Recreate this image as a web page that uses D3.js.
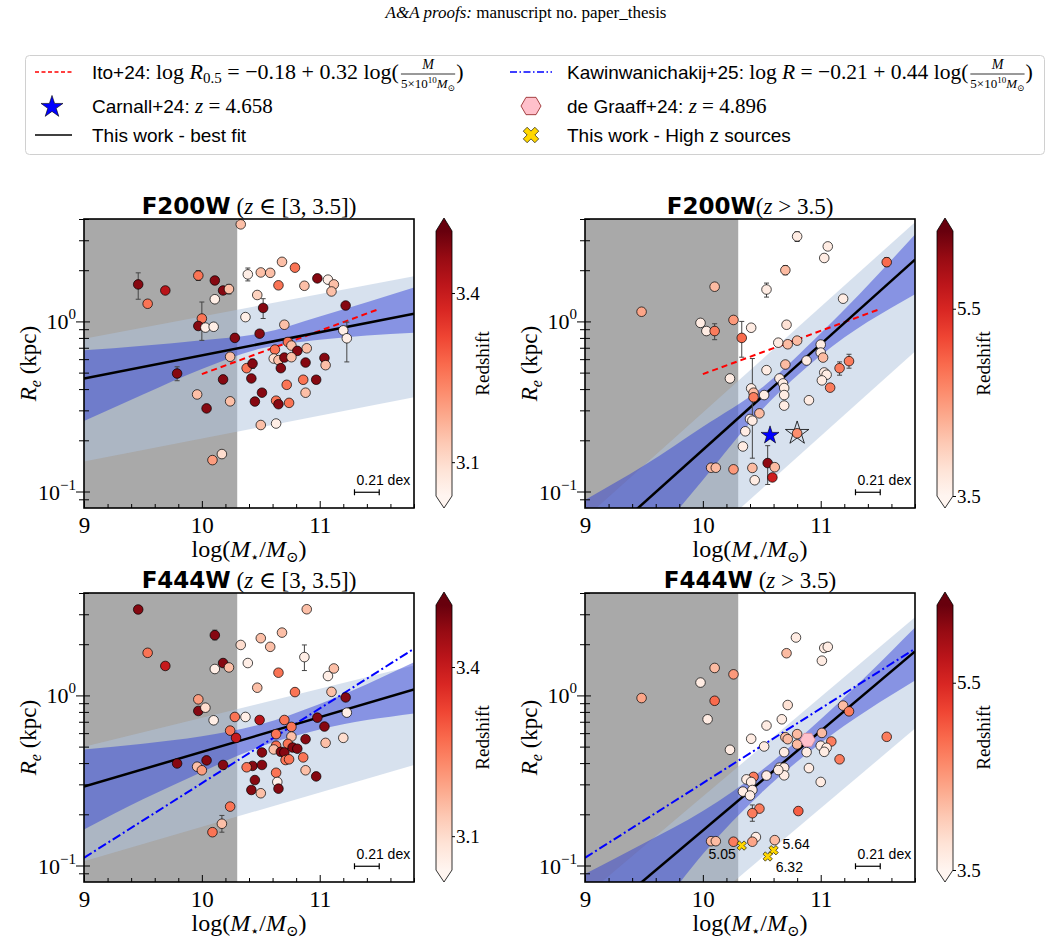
<!DOCTYPE html>
<html>
<head>
<meta charset="utf-8">
<script src="https://cdn.jsdelivr.net/npm/d3@7"></script>
<style>
body { margin: 0; background: #fff; }
svg { display: block; }
</style>
</head>
<body>
<svg id="fig" width="1052" height="945"></svg>
<script>
// ---- data ----
var massDomain = [9, 11.8];
var reDomain = [0.08, 4];
var massCut = 10.3;
var zLoDomain = [3.04, 3.51];
var zHiDomain = [3.5, 6.33];
var zLoTicks = [3.1, 3.4];
var zHiTicks = [3.5, 5.5];

// F200W, z in [3, 3.5]
var f200Lo_mass = [9.46,9.54,9.69,9.97,10.11,10.18,10.23,10.11,10.00,9.97,10.03,10.10,10.28,10.24,9.79,10.18,9.96,10.04,10.24,10.09,10.17,10.33,10.39,10.50,10.58,10.68,10.79,10.65,10.87,10.98,11.07,11.12,11.10,10.47,10.52,10.37,10.70,10.49,11.22,11.20,11.23,10.73,10.76,10.89,10.81,10.62,10.61,10.65,10.70,10.76,10.88,11.04,11.05,10.38,10.43,10.67,10.42,10.72,10.86,10.97,10.88,10.51,10.45,10.63,10.65,10.74,10.50,10.63];
var f200Lo_re = [1.65,1.27,1.52,1.86,1.74,1.52,1.55,1.35,1.04,0.94,0.92,0.93,0.80,0.62,0.494,0.456,0.372,0.308,0.339,0.153,0.166,3.72,1.89,1.94,1.93,2.24,2.07,1.63,1.62,1.79,1.76,1.65,1.50,1.43,1.20,1.06,0.956,0.847,1.24,0.886,0.796,0.757,0.721,0.695,0.671,0.683,0.605,0.592,0.613,0.616,0.573,0.610,0.553,0.531,0.565,0.531,0.462,0.424,0.454,0.454,0.381,0.381,0.338,0.342,0.326,0.332,0.246,0.251];
var f200Lo_z = [3.48,3.26,3.42,3.26,3.48,3.48,3.15,3.06,3.26,3.48,3.06,3.06,3.48,3.15,3.48,3.48,3.15,3.48,3.15,3.2,3.1,3.15,3.06,3.15,3.15,3.15,3.26,3.26,3.15,3.48,3.06,3.15,3.15,3.12,3.48,3.06,3.15,3.48,3.48,3.06,3.06,3.26,3.15,3.15,3.48,3.26,3.1,3.15,3.48,3.15,3.48,3.48,3.15,3.26,3.48,3.48,3.48,3.26,3.26,3.48,3.15,3.48,3.48,3.26,3.48,3.26,3.15,3.06];
var f200Lo_err = [[0,1.35,1.93],[3,1.74,1.99],[6,1.45,1.65],[8,0.774,1.30],[12,0.77,0.84],[14,0.448,0.541],[15,0.43,0.48],[22,1.73,2.06],[34,1.04,1.36],[40,0.578,0.99],[54,0.53,0.60]];

// F200W, z > 3.5
var f200Hi_mass = [9.48,10.10,9.98,10.03,10.10,10.26,10.33,10.23,10.41,10.80,11.06,11.03,10.70,10.54,11.19,11.56,10.71,10.64,10.72,10.80,11.00,11.00,11.02,10.88,10.70,10.54,10.65,10.68,10.69,10.69,10.69,10.90,11.03,11.05,11.01,11.08,11.16,11.24,10.41,10.43,10.43,10.52,10.48,10.40,10.42,10.36,10.34,10.42,10.44,10.07,10.11,10.26,10.55,10.61,10.59,10.80];
var f200Hi_re = [1.14,1.60,0.98,0.878,0.878,1.02,0.80,0.462,0.918,3.16,2.76,2.36,2.00,1.54,1.36,2.23,0.956,0.750,0.734,0.771,0.731,0.656,0.613,0.589,0.558,0.517,0.462,0.432,0.406,0.369,0.320,0.344,0.501,0.486,0.450,0.408,0.531,0.584,0.404,0.381,0.358,0.369,0.288,0.267,0.261,0.226,0.184,0.1376,0.1165,0.138,0.138,0.135,0.147,0.139,0.121,0.220];
var f200Hi_z = [4.4,4.2,3.65,3.65,4.75,4.5,4.9,3.65,3.65,3.65,3.65,3.65,4.2,3.65,3.65,4.9,3.8,3.65,4.2,4.2,3.65,3.65,4.2,3.65,4.2,3.65,3.65,3.65,3.65,3.65,3.65,3.65,3.65,3.65,3.65,4.75,4.75,4.75,3.65,4.2,4.75,3.65,4.2,3.65,3.65,3.65,3.65,4.2,3.65,4.2,4.2,4.5,6.1,4.2,5.6,4.6];
var f200Hi_err = [[4,0.781,0.969],[6,0.616,1.0],[9,2.95,3.37],[11,2.25,2.48],[12,1.88,2.13],[13,1.39,1.68],[15,2.1,2.37],[36,0.483,0.578],[37,0.531,0.641],[38,0.39,0.42],[44,0.157,0.605],[52,0.110,0.186]];
var f200Hi_starMass = [10.80];
var f200Hi_starRe = [0.220];

// F444W, z in [3, 3.5]
var f444Lo_mass = [9.46,9.54,9.69,10.11,10.18,10.23,10.11,9.97,9.97,10.03,10.10,10.28,10.24,10.29,9.79,10.04,10.18,9.96,10.00,10.24,10.17,10.09,10.33,10.39,10.50,10.58,10.68,10.89,10.87,10.65,10.47,10.37,10.49,10.70,10.79,11.07,11.12,11.10,11.22,11.23,10.98,11.04,10.76,10.63,10.76,10.88,11.05,11.20,10.73,10.63,10.61,10.67,10.70,10.77,10.81,10.51,10.86,10.71,10.74,10.43,10.38,10.51,10.88,10.97,10.63,10.45,10.42,10.64,10.65,10.50];
var f444Lo_re = [3.20,1.78,1.49,2.26,1.55,1.46,1.43,0.948,0.81,0.847,0.714,0.747,0.621,0.563,0.398,0.415,0.390,0.381,0.363,0.222,0.176,0.157,1.98,1.55,2.17,1.93,2.34,3.21,1.68,1.36,1.11,0.747,0.717,0.717,1.046,1.30,1.44,1.05,0.973,0.792,0.740,0.656,0.653,0.592,0.573,0.553,0.526,0.563,0.519,0.506,0.481,0.466,0.462,0.494,0.486,0.462,0.432,0.417,0.421,0.385,0.378,0.390,0.363,0.334,0.351,0.318,0.278,0.310,0.283,0.266];
var f444Lo_z = [3.48,3.26,3.40,3.48,3.48,3.15,3.06,3.2,3.48,3.1,3.06,3.26,3.26,3.40,3.48,3.48,3.48,3.15,3.2,3.26,3.15,3.26,3.1,3.06,3.15,3.15,3.15,3.15,3.06,3.26,3.15,3.06,3.42,3.26,3.26,3.06,3.15,3.15,3.48,3.06,3.48,3.48,3.26,3.26,3.15,3.48,3.15,3.1,3.26,3.26,3.15,3.48,3.48,3.48,3.48,3.48,3.26,3.26,3.26,3.48,3.26,3.48,3.15,3.48,3.26,3.48,3.48,3.06,3.48,3.15];
var f444Lo_err = [[3,2.12,2.42],[20,0.157,0.197],[28,1.40,1.98]];

// F444W, z > 3.5
var f444Hi_mass = [9.48,10.10,9.98,10.26,10.10,10.04,10.23,10.79,10.71,11.03,11.06,11.01,10.72,10.67,10.54,10.41,10.52,10.70,10.72,10.80,10.80,10.88,10.69,11.01,11.09,11.00,11.05,11.03,11.19,11.24,11.56,11.16,10.90,11.00,10.65,10.69,10.69,10.64,10.54,10.43,10.37,10.41,10.42,10.34,10.40,10.48,10.42,10.81,10.45,10.42,10.61,10.07,10.11,10.26];
var f444Hi_re = [0.965,1.45,1.19,1.33,0.93,0.724,0.479,2.19,1.77,1.90,1.93,1.60,0.878,0.724,0.665,0.556,0.501,0.568,0.553,0.592,0.515,0.464,0.464,0.602,0.536,0.506,0.492,0.466,0.871,0.806,0.571,0.421,0.374,0.310,0.376,0.376,0.339,0.364,0.338,0.332,0.321,0.310,0.278,0.272,0.258,0.216,0.203,0.209,0.147,0.138,0.141,0.139,0.139,0.138];
var f444Hi_z = [4.4,4.2,3.65,4.5,4.9,3.65,3.65,3.65,4.2,3.65,3.65,3.65,3.8,3.65,3.65,3.65,3.65,4.2,4.2,4.2,4.2,3.65,3.65,4.2,4.75,3.65,3.65,3.65,4.2,4.75,4.75,4.75,3.65,3.65,3.65,3.65,3.65,3.65,3.65,4.75,3.65,3.65,3.65,3.65,3.65,4.75,4.75,5.0,3.65,4.4,4.2,4.2,4.2,4.75];
var f444Hi_err = [[46,0.182,0.227]];

// literature and special sources
var carnallMass = [10.57], carnallRe = [0.214];
var degraaffMass = [10.89], degraaffRe = [0.548];
var highzMass = [10.33, 10.60, 10.55];
var highzRe = [0.131, 0.123, 0.113];
var highzLabels = ['5.05', '5.64', '6.32'];

// relations (values at the ends of each line)
var itoMass = [10.0, 11.5], itoRe = [0.49, 1.18];
var kawinMass = [9.0, 11.8], kawinRe = [0.111, 1.88];
var fitMass = [9.0, 11.8];
var fitRe = [[0.462, 1.109], [0.042, 2.31], [0.291, 1.084], [0.0418, 1.815]];
var scatterMass = [9.0, 11.8];
var scatterUp = [[0.792, 1.84], [0.0697, 3.83], [0.499, 1.50], [0.0662, 2.88]];
var scatterLo = [[0.150, 0.358], [0.0121, 0.665], [0.106, 0.390], [0.0147, 0.638]];
var confMass = [9.0, 9.5, 10.0, 10.5, 11.0, 11.8];
var confUp = [[0.676, 0.72, 0.776, 0.851, 1.07, 1.585], [0.0891, 0.142, 0.240, 0.407, 0.851, 3.24], [0.481, 0.52, 0.575, 0.676, 0.891, 1.567], [0.0891, 0.135, 0.209, 0.363, 0.724, 2.51]];
var confLo = [[0.260, 0.372, 0.525, 0.692, 0.78, 0.859], [0.0178, 0.045, 0.117, 0.302, 0.631, 1.445], [0.163, 0.245, 0.355, 0.501, 0.631, 0.782], [0.0158, 0.042, 0.117, 0.269, 0.525, 1.225]];
var scaleDex = 0.21;

// ---- drawing ----
var SERIF = "'Liberation Serif', 'DejaVu Serif', serif";
var SANS = "'Liberation Sans', 'DejaVu Sans', sans-serif";
var BOLD = "'DejaVu Sans', 'Liberation Sans', sans-serif";
var svg = d3.select('#fig');
var defs = svg.append('defs');
var PW = 330, PH = 289;

function rich(g, x, y, parts, anchor) {
    var t = g.append('text').attr('x', x).attr('y', y).attr('text-anchor', anchor || 'start');
    var shift = 0;
    parts.forEach(function (p) {
        var s = t.append('tspan').text(p.t)
            .attr('font-family', p.f === 'sans' ? SANS : (p.f === 'bold' ? BOLD : SERIF))
            .attr('font-size', p.s)
            .attr('font-style', p.i ? 'italic' : 'normal')
            .attr('font-weight', p.b ? 'bold' : 'normal');
        var d = (p.dy || 0) - shift;
        if (d) s.attr('dy', d);
        shift = p.dy || 0;
    });
    return t;
}

function hexPath(r) {
    var pts = d3.range(6).map(function (i) {
        var a = i * Math.PI / 3;
        return [r * Math.cos(a), r * Math.sin(a)];
    });
    return 'M' + pts.join('L') + 'Z';
}
var starSym = function (s) { return d3.symbol(d3.symbolStar, s)(); };
var crossSym = function (s) { return d3.symbol(d3.symbolCross, s)(); };

// header
rich(svg, 526, 18, [{t: 'A&A proofs:', s: 17, i: 1}, {t: ' manuscript no. paper_thesis', s: 17}], 'middle');

// legend
var leg = svg.append('g');
leg.append('rect').attr('x', 25.5).attr('y', 55.5).attr('width', 1019).attr('height', 99)
    .attr('rx', 4).attr('fill', '#fff').attr('stroke', '#d0d0d0');

function fracLog(g, x, y, prefix) {
    var t = rich(g, x, y, prefix);
    var x1 = x + t.node().getComputedTextLength();
    var den = rich(g, 0, y + 9, [{t: '5×10', s: 13}, {t: '10', s: 9, dy: -5}, {t: 'M', s: 13, i: 1}, {t: '⊙', s: 9, dy: 3}]);
    var w = den.node().getComputedTextLength();
    den.attr('x', x1 + 2);
    rich(g, x1 + 2 + w / 2, y - 10, [{t: 'M', s: 14, i: 1}], 'middle');
    g.append('line').attr('x1', x1 + 2).attr('x2', x1 + 2 + w).attr('y1', y - 5).attr('y2', y - 5)
        .attr('stroke', '#000').attr('stroke-width', 0.8);
    rich(g, x1 + w + 3, y, [{t: ')', s: 22}]);
}

var row1 = 72, row2 = 106, row3 = 135;
leg.append('line').attr('x1', 35).attr('x2', 72).attr('y1', row1).attr('y2', row1)
    .attr('stroke', 'red').attr('stroke-width', 1.5).attr('stroke-dasharray', '4,2.5');
fracLog(leg, 92, row1 + 7, [{t: 'Ito+24: ', f: 'sans', s: 19}, {t: 'log ', s: 22}, {t: 'R', s: 22, i: 1}, {t: '0.5', s: 15, dy: 4}, {t: ' = −0.18 + 0.32 log(', s: 22}]);
leg.append('line').attr('x1', 510).attr('x2', 552).attr('y1', row1).attr('y2', row1)
    .attr('stroke', 'blue').attr('stroke-width', 1.5).attr('stroke-dasharray', '7,2.5,1.5,2.5');
fracLog(leg, 567, row1 + 7, [{t: 'Kawinwanichakij+25: ', f: 'sans', s: 19}, {t: 'log ', s: 21.5}, {t: 'R', s: 21.5, i: 1}, {t: ' = −0.21 + 0.44 log(', s: 21.5}]);

leg.append('path').attr('d', starSym(150)).attr('transform', 'translate(52,' + (row2 + 1) + ')')
    .attr('fill', 'blue').attr('stroke', '#000').attr('stroke-width', 0.6);
rich(leg, 92, row2 + 7, [{t: 'Carnall+24: ', f: 'sans', s: 19}, {t: 'z', s: 21, i: 1}, {t: ' = 4.658', s: 21}]);
leg.append('path').attr('d', hexPath(10)).attr('transform', 'translate(531,' + row2 + ')')
    .attr('fill', 'pink').attr('stroke', '#8b1a1a').attr('stroke-width', 0.8);
rich(leg, 567, row2 + 7, [{t: 'de Graaff+24: ', f: 'sans', s: 19}, {t: 'z', s: 21, i: 1}, {t: ' = 4.896', s: 21}]);

leg.append('line').attr('x1', 35).attr('x2', 72).attr('y1', row3).attr('y2', row3)
    .attr('stroke', '#000').attr('stroke-width', 1.5);
rich(leg, 92, row3 + 7, [{t: 'This work - best fit', f: 'sans', s: 19}]);
leg.append('path').attr('d', crossSym(150)).attr('transform', 'translate(531,' + row3 + ') rotate(45)')
    .attr('fill', 'gold').attr('stroke', '#000').attr('stroke-width', 0.6);
rich(leg, 567, row3 + 7, [{t: 'This work - High z sources', f: 'sans', s: 19}]);

// panels
var panels = [
    {id: 0, x: 84, y: 219, band: 'F200W', sep: ' ', cond: 'lo', mass: f200Lo_mass, re: f200Lo_re, z: f200Lo_z, err: f200Lo_err, ito: true},
    {id: 1, x: 585, y: 219, band: 'F200W', sep: '', cond: 'hi', mass: f200Hi_mass, re: f200Hi_re, z: f200Hi_z, err: f200Hi_err, ito: true, carnall: true},
    {id: 2, x: 84, y: 593, band: 'F444W', sep: ' ', cond: 'lo', mass: f444Lo_mass, re: f444Lo_re, z: f444Lo_z, err: f444Lo_err, kawin: true},
    {id: 3, x: 585, y: 593, band: 'F444W', sep: ' ', cond: 'hi', mass: f444Hi_mass, re: f444Hi_re, z: f444Hi_z, err: f444Hi_err, kawin: true, degraaff: true}
];

panels.forEach(function (p) {
    var g = svg.append('g').attr('transform', 'translate(' + p.x + ',' + p.y + ')');
    var x = d3.scaleLinear().domain(massDomain).range([0, PW]);
    var y = d3.scaleLog().domain(reDomain).range([PH, 0]);
    var zDom = p.cond === 'lo' ? zLoDomain : zHiDomain;
    var color = d3.scaleSequential(d3.interpolateReds).domain(zDom).clamp(true);

    defs.append('clipPath').attr('id', 'clip' + p.id).append('rect')
        .attr('width', PW).attr('height', PH);
    var plot = g.append('g').attr('clip-path', 'url(#clip' + p.id + ')');

    plot.append('rect').attr('x', x(massDomain[0])).attr('y', 0)
        .attr('width', x(massCut) - x(massDomain[0])).attr('height', PH).attr('fill', '#a9a9a9');

    var sc = scatterMass.map(function (m, i) { return [m, scatterLo[p.id][i], scatterUp[p.id][i]]; });
    var cf = confMass.map(function (m, i) { return [m, confLo[p.id][i], confUp[p.id][i]]; });
    var area = d3.area().x(function (d) { return x(d[0]); })
        .y0(function (d) { return y(d[1]); }).y1(function (d) { return y(d[2]); });
    plot.append('path').attr('d', area(sc)).attr('fill', '#b0c4de').attr('fill-opacity', 0.5);
    plot.append('path').attr('d', area.curve(d3.curveMonotoneX)(cf)).attr('fill', '#2535d5').attr('fill-opacity', 0.45);

    var line = d3.line().x(function (d) { return x(d[0]); }).y(function (d) { return y(d[1]); });
    if (p.ito) {
        plot.append('path').attr('d', line(itoMass.map(function (m, i) { return [m, itoRe[i]]; })))
            .attr('fill', 'none').attr('stroke', 'red').attr('stroke-width', 2).attr('stroke-dasharray', '6,4');
    }
    if (p.kawin) {
        plot.append('path').attr('d', line(kawinMass.map(function (m, i) { return [m, kawinRe[i]]; })))
            .attr('fill', 'none').attr('stroke', 'blue').attr('stroke-width', 2).attr('stroke-dasharray', '9,3,2,3');
    }
    plot.append('path').attr('d', line(fitMass.map(function (m, i) { return [m, fitRe[p.id][i]]; })))
        .attr('fill', 'none').attr('stroke', '#000').attr('stroke-width', 2.5);

    // error bars
    var eb = plot.append('g').attr('stroke', '#444').attr('stroke-width', 1);
    p.err.forEach(function (e) {
        var cx = x(p.mass[e[0]]);
        eb.append('line').attr('x1', cx).attr('x2', cx).attr('y1', y(e[1])).attr('y2', y(e[2]));
        eb.append('line').attr('x1', cx - 2.5).attr('x2', cx + 2.5).attr('y1', y(e[1])).attr('y2', y(e[1]));
        eb.append('line').attr('x1', cx - 2.5).attr('x2', cx + 2.5).attr('y1', y(e[2])).attr('y2', y(e[2]));
    });

    if (p.id === 1) {
        plot.selectAll('.ostar').data(f200Hi_starMass).enter().append('path')
            .attr('d', starSym(170))
            .attr('transform', function (d, i) { return 'translate(' + x(d) + ',' + y(f200Hi_starRe[i]) + ')'; })
            .attr('fill', 'none').attr('stroke', '#000').attr('stroke-width', 0.8);
    }

    plot.selectAll('circle.pt').data(p.mass).enter().append('circle')
        .attr('class', 'pt')
        .attr('cx', function (d) { return x(d); })
        .attr('cy', function (d, i) { return y(p.re[i]); })
        .attr('r', 4.8)
        .attr('fill', function (d, i) { return color(p.z[i]); })
        .attr('stroke', '#000').attr('stroke-width', 0.7);

    if (p.carnall) {
        plot.selectAll('.cstar').data(carnallMass).enter().append('path')
            .attr('d', starSym(100))
            .attr('transform', function (d, i) { return 'translate(' + x(d) + ',' + y(carnallRe[i]) + ')'; })
            .attr('fill', 'blue').attr('stroke', '#000').attr('stroke-width', 0.6);
    }
    if (p.degraaff) {
        plot.selectAll('.hex').data(degraaffMass).enter().append('path')
            .attr('d', hexPath(7.5))
            .attr('transform', function (d, i) { return 'translate(' + x(d) + ',' + y(degraaffRe[i]) + ')'; })
            .attr('fill', 'pink').attr('stroke', '#d88a96').attr('stroke-width', 0.8);
        plot.selectAll('.hz').data(highzMass).enter().append('path')
            .attr('d', crossSym(55))
            .attr('transform', function (d, i) { return 'translate(' + x(d) + ',' + y(highzRe[i]) + ') rotate(45)'; })
            .attr('fill', 'gold').attr('stroke', '#000').attr('stroke-width', 0.6);
        var off = [[-6, 13, 'end'], [9, -1, 'start'], [8, 16, 'start']];
        highzMass.forEach(function (m, i) {
            rich(g, x(m) + off[i][0], y(highzRe[i]) + off[i][1], [{t: highzLabels[i], f: 'sans', s: 14}], off[i][2]);
        });
    }

    // scale bar
    var sbX = x(11.4), sbY = y(0.099), half = (x(11.4 + scaleDex / 2) - x(11.4 - scaleDex / 2)) / 2;
    var sb = g.append('g').attr('stroke', '#000').attr('stroke-width', 1.2);
    sb.append('line').attr('x1', sbX - half).attr('x2', sbX + half).attr('y1', sbY).attr('y2', sbY);
    sb.append('line').attr('x1', sbX - half).attr('x2', sbX - half).attr('y1', sbY - 3).attr('y2', sbY + 3);
    sb.append('line').attr('x1', sbX + half).attr('x2', sbX + half).attr('y1', sbY - 3).attr('y2', sbY + 3);
    rich(g, sbX - half + 2, sbY - 7, [{t: scaleDex + ' dex', f: 'sans', s: 14}]);

    // frame
    g.append('rect').attr('width', PW).attr('height', PH).attr('fill', 'none')
        .attr('stroke', '#000').attr('stroke-width', 1.6);

    // x axis
    var xa = g.append('g').attr('transform', 'translate(0,' + PH + ')');
    xa.call(d3.axisBottom(x).tickValues([9, 10, 11]).tickSizeInner(-7).tickSizeOuter(0).tickPadding(9).tickFormat(d3.format('d')));
    xa.append('g').call(d3.axisBottom(x).tickValues(d3.range(9.2, 11.8, 0.2).filter(function (v) { return Math.abs(v - Math.round(v)) > 0.01; }))
        .tickSizeInner(-4).tickSizeOuter(0).tickFormat(''));
    xa.selectAll('.domain').remove();
    xa.selectAll('text').attr('font-family', SERIF).attr('font-size', 23).attr('fill', '#000');
    xa.selectAll('line').attr('stroke', '#000').attr('stroke-width', 1);

    // y axis
    var majors = [0.1, 1];
    var minors = [0.09, 0.2, 0.3, 0.4, 0.5, 0.6, 0.7, 0.8, 0.9, 2, 3, 4];
    var ya = g.append('g');
    ya.append('g').call(d3.axisLeft(y).tickValues(majors).tickSize(8).tickFormat(''));
    ya.append('g').call(d3.axisLeft(y).tickValues(majors).tickSize(-6).tickFormat(''));
    ya.append('g').call(d3.axisLeft(y).tickValues(minors).tickSize(5).tickFormat(''));
    ya.append('g').call(d3.axisLeft(y).tickValues(minors).tickSize(-5).tickFormat(''));
    ya.selectAll('.domain').remove();
    ya.selectAll('line').attr('stroke', '#000').attr('stroke-width', 1);
    majors.forEach(function (v) {
        var e = Math.round(Math.log10(v));
        rich(g, -8, y(v) + 8, [{t: '10', s: 22}, {t: e < 0 ? '−' + (-e) : '' + e, s: 15, dy: -10}], 'end');
    });

    // labels
    rich(g, PW / 2, PH + 49, [{t: 'log(', s: 24}, {t: 'M', s: 24, i: 1}, {t: '⋆', s: 15, dy: 5}, {t: '/', s: 24}, {t: 'M', s: 24, i: 1}, {t: '⊙', s: 15, dy: 5}, {t: ')', s: 24}], 'middle');
    var yl = g.append('g').attr('transform', 'translate(-48,' + (PH / 2) + ') rotate(-90)');
    rich(yl, 0, 0, [{t: 'R', s: 23, i: 1}, {t: 'e', s: 16, i: 1, dy: 5}, {t: ' (kpc)', s: 23}], 'middle');

    var title = p.cond === 'lo'
        ? [{t: p.band, f: 'bold', s: 23, b: 1}, {t: p.sep + '(', s: 23}, {t: 'z', s: 23, i: 1}, {t: ' ∈ [3, 3.5])', s: 23}]
        : [{t: p.band, f: 'bold', s: 23, b: 1}, {t: p.sep + '(', s: 23}, {t: 'z', s: 23, i: 1}, {t: ' > 3.5)', s: 23}];
    rich(g, PW / 2, -5, title, 'middle');

    // colorbar
    var cbX = PW + 22, cbW = 16, rTop = 12, rBot = PH - 12;
    var gid = 'grad' + p.id;
    var grad = defs.append('linearGradient').attr('id', gid).attr('x1', 0).attr('x2', 0).attr('y1', 1).attr('y2', 0);
    d3.range(0, 1.0001, 0.1).forEach(function (t) {
        grad.append('stop').attr('offset', t).attr('stop-color', d3.interpolateReds(t));
    });
    var cb = g.append('g').attr('transform', 'translate(' + cbX + ',0)');
    cb.append('rect').attr('y', rTop).attr('width', cbW).attr('height', rBot - rTop).attr('fill', 'url(#' + gid + ')');
    cb.append('path').attr('d', 'M0,' + rTop + 'L' + cbW / 2 + ',-1L' + cbW + ',' + rTop + 'Z').attr('fill', d3.interpolateReds(1));
    cb.append('path').attr('d', 'M0,' + rBot + 'L' + cbW / 2 + ',' + PH + 'L' + cbW + ',' + rBot + 'Z').attr('fill', d3.interpolateReds(0));
    cb.append('path').attr('d', 'M0,' + rTop + 'L' + cbW / 2 + ',-1L' + cbW + ',' + rTop + 'L' + cbW + ',' + rBot + 'L' + cbW / 2 + ',' + PH + 'L0,' + rBot + 'Z')
        .attr('fill', 'none').attr('stroke', '#000').attr('stroke-width', 0.8);
    var zc = d3.scaleLinear().domain(zDom).range([rBot, rTop]);
    var za = cb.append('g').attr('transform', 'translate(' + cbW + ',0)')
        .call(d3.axisRight(zc).tickValues(p.cond === 'lo' ? zLoTicks : zHiTicks).tickSize(3).tickPadding(1).tickFormat(d3.format('.1f')));
    za.select('.domain').remove();
    za.selectAll('text').attr('font-family', SERIF).attr('font-size', 19).attr('fill', '#000');
    var rl = cb.append('g').attr('transform', 'translate(' + (cbW + 37) + ',' + (PH / 2) + ') rotate(-90)');
    rich(rl, 0, 0, [{t: 'Redshift', s: 19}], 'middle');
});
</script>
</body>
</html>
